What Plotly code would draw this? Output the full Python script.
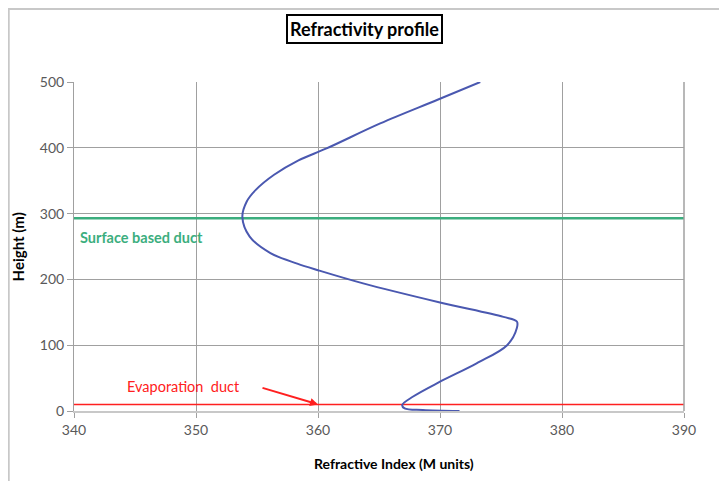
import plotly.graph_objects as go

# Refractivity profile data
height_m = [0, 1.5, 4, 9, 22, 44.5, 72.5, 100, 126, 136, 143, 165, 194, 214, 224, 240, 265,
            295, 318, 336, 359, 381, 399, 437, 473, 500]
m_units = [371.6, 368.6, 367.1, 366.9, 367.8, 370.0, 373.0, 375.5, 376.3, 376.3, 375.2, 370.0,
           363.7, 360.0, 358.3, 356.1, 354.4, 353.8, 354.15, 354.9, 356.4, 358.4, 360.7, 365.1,
           369.8, 373.3]

surface_duct_height = 293
evap_duct_height = 10
x_range = [340, 390]
y_range = [0, 500]
x_ticks = [340, 350, 360, 370, 380, 390]
y_ticks = [0, 100, 200, 300, 400, 500]

FONT = "Lato"
GRID = "#a0a0a0"
TICKC = "#595959"

fig = go.Figure()
fig.add_trace(go.Scatter(x=x_range, y=[surface_duct_height] * 2, mode="lines",
                         line=dict(color="#3cae7e", width=2.5), hoverinfo="skip"))
fig.add_trace(go.Scatter(x=x_range, y=[evap_duct_height] * 2, mode="lines",
                         line=dict(color="#ff2020", width=1.5), hoverinfo="skip"))
fig.add_trace(go.Scatter(x=m_units, y=height_m, mode="lines", line_shape="spline",
                         line=dict(color="#4a58b0", width=2)))

fig.update_layout(
    width=727, height=481,
    margin=dict(l=66, r=51, t=74, b=78),
    paper_bgcolor="white", plot_bgcolor="white",
    showlegend=False,
    font=dict(family=FONT, size=14, color=TICKC),
)
fig.update_xaxes(range=x_range, tickvals=x_ticks, showgrid=True, gridcolor=GRID, gridwidth=1,
                 zeroline=False, showline=True, linecolor="#c8c8c8", linewidth=2,
                 ticks="outside", ticklen=5, tickcolor=GRID,
                 tickfont=dict(family=FONT, size=14, color=TICKC))
fig.update_yaxes(range=y_range, tickvals=y_ticks, showgrid=True, gridcolor=GRID, gridwidth=1,
                 zeroline=False, showline=True, linecolor=GRID, linewidth=1,
                 ticks="outside", ticklen=6, tickcolor=GRID,
                 tickfont=dict(family=FONT, size=14, color=TICKC))

# right border of plot area
fig.add_shape(type="line", xref="paper", yref="paper", x0=1, x1=1, y0=0, y1=1,
              line=dict(color=GRID, width=1.5))

# outer chart frame
fig.add_shape(type="rect", xref="paper", yref="paper", x0=-0.107, x1=1.2, y0=-0.3, y1=1.222,
              line=dict(color="#c8c8c8", width=2), layer="below")

annotations = [
    dict(text="<b>Refractivity profile</b>", xref="paper", yref="paper", x=0.477, y=1.161,
         xanchor="center", yanchor="middle", showarrow=False,
         font=dict(family=FONT, size=18, color="black"),
         bordercolor="black", borderwidth=2, borderpad=2, bgcolor="white"),
    dict(text="<b>Height (m)</b>", xref="paper", yref="paper", x=-0.092, y=0.5,
         xanchor="center", yanchor="middle",
         textangle=-90, showarrow=False, font=dict(family=FONT, size=15, color="black")),
    dict(text="<b>Refractive Index (M units)</b>", xref="paper", yref="paper", x=0.525, y=-0.16,
         xanchor="center", yanchor="middle",
         showarrow=False, font=dict(family=FONT, size=14, color="black")),
    dict(text="<b>Surface based duct</b>", xref="paper", yref="paper", x=0.006, y=0.526,
         xanchor="left", yanchor="middle", showarrow=False,
         font=dict(family=FONT, size=14.5, color="#3cae7e")),
    dict(text="Evaporation  duct", xref="paper", yref="paper", x=0.083, y=0.073,
         xanchor="left", yanchor="middle", showarrow=False,
         font=dict(family=FONT, size=14.5, color="#ff2020")),
    dict(text="", x=360, y=evap_duct_height, xref="x", yref="y", showarrow=True,
         ax=-57, ay=-17, arrowcolor="#ff2020", arrowwidth=2, arrowhead=2, arrowsize=0.8),
]
fig.update_layout(annotations=annotations)

fig.write_html("out.html")
